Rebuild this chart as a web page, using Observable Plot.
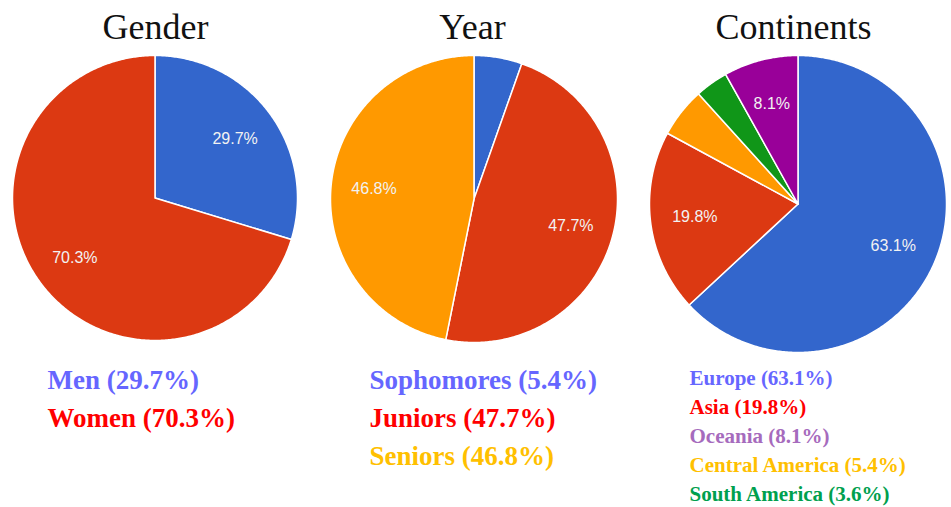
<!DOCTYPE html>
<html><head><meta charset="utf-8">
<script src="https://cdn.jsdelivr.net/npm/d3@7"></script>
<script src="https://cdn.jsdelivr.net/npm/@observablehq/plot@0.6"></script>
<style>html,body{margin:0;padding:0;background:#fff;}#chart{width:951px;height:507px;}</style>
</head><body><div id="chart"></div>
<script>
// ---- data ----
const genderCats = ["Men", "Women"];
const genderVals = [29.7, 70.3];
const yearCats = ["Sophomores", "Juniors", "Seniors"];
const yearVals = [5.4, 47.7, 46.8];
const contCats = ["Europe", "Asia", "Central America", "South America", "Oceania"];
const contVals = [63.1, 19.8, 5.4, 3.6, 8.1];
const contLegendOrder = ["Europe", "Asia", "Oceania", "Central America", "South America"];
const titles = ["Gender", "Year", "Continents"];

// ---- styles / layout ----
const W = 951, H = 507;
const slicePalette = {
  Men: "#3366cc", Women: "#dc3912",
  Sophomores: "#3366cc", Juniors: "#dc3912", Seniors: "#ff9900",
  Europe: "#3366cc", Asia: "#dc3912", "Central America": "#ff9900", "South America": "#109618", Oceania: "#990099"
};
const legendPalette = {
  Men: "#6666ff", Women: "#ff0000",
  Sophomores: "#6666ff", Juniors: "#ff0000", Seniors: "#ffc000",
  Europe: "#6666ff", Asia: "#ff0000", Oceania: "#a66bbd", "Central America": "#ffc000", "South America": "#00a04e"
};
const layout = [
  {cx: 154.5, cy: 197.5, r: 142.5, tx: 155, ty: 27, lx: 47, ly: 380, ldy: 38, lfs: 27},
  {cx: 473.5, cy: 198.5, r: 143.5, tx: 472, ty: 27, lx: 369, ly: 380, ldy: 38, lfs: 27},
  {cx: 797.5, cy: 203.5, r: 148.5, tx: 793, ty: 27, lx: 689, ly: 377.5, ldy: 29, lfs: 21}
];
const pies = [
  {cats: genderCats, vals: genderVals, legend: genderCats},
  {cats: yearCats, vals: yearVals, legend: yearCats},
  {cats: contCats, vals: contVals, legend: contLegendOrder}
];

const polys = [], sliceLabels = [], legendRows = [], titleRows = [];
pies.forEach((p, i) => {
  const L = layout[i];
  const arcs = d3.pie().sort(null).value(d => d)(p.vals);
  arcs.forEach((a, j) => {
    const key = i + "-" + j, cat = p.cats[j];
    polys.push({key, cat, x: L.cx, y: L.cy});
    const n = Math.max(2, Math.ceil((a.endAngle - a.startAngle) / 0.01));
    for (let k = 0; k <= n; k++) {
      const t = a.startAngle + (a.endAngle - a.startAngle) * k / n;
      polys.push({key, cat, x: L.cx + L.r * Math.sin(t), y: L.cy - L.r * Math.cos(t)});
    }
    polys.push({key, cat, x: L.cx, y: L.cy});
    if (p.vals[j] >= 8) {
      const m = (a.startAngle + a.endAngle) / 2;
      sliceLabels.push({x: L.cx + 0.7 * L.r * Math.sin(m), y: L.cy - 0.7 * L.r * Math.cos(m), text: p.vals[j].toFixed(1) + "%"});
    }
  });
  p.legend.forEach((cat, k) => {
    const v = p.vals[p.cats.indexOf(cat)];
    legendRows.push({x: L.lx, y: L.ly + k * L.ldy, text: `${cat} (${v.toFixed(1)}%)`, cat, fs: L.lfs});
  });
  titleRows.push({x: L.tx, y: L.ty, text: titles[i]});
});

const chart = Plot.plot({
  width: W, height: H,
  margin: 0,
  x: {domain: [0, W], range: [0, W], axis: null},
  y: {domain: [0, H], range: [0, H], axis: null},
  style: {background: "#fff"},
  marks: [
    Plot.line(polys, {x: "x", y: "y", z: "key", fill: d => slicePalette[d.cat], stroke: "#ffffff", strokeWidth: 1.5, strokeLinejoin: "round", curve: "linear"}),
    Plot.text(sliceLabels, {x: "x", y: "y", text: "text", fill: "#f2f2f2", fontSize: 16, fontFamily: "Liberation Sans, Arial, sans-serif"}),
    Plot.text(titleRows, {x: "x", y: "y", text: "text", fill: "#111", fontSize: 36, fontFamily: "Liberation Serif, serif"}),
    ...[27, 21].map(fs => Plot.text(legendRows.filter(d => d.fs === fs), {x: "x", y: "y", text: "text", fill: d => legendPalette[d.cat], textAnchor: "start", fontSize: fs, fontWeight: "bold", fontFamily: "Liberation Serif, serif"}))
  ]
});
document.getElementById("chart").appendChild(chart);
</script></body></html>
